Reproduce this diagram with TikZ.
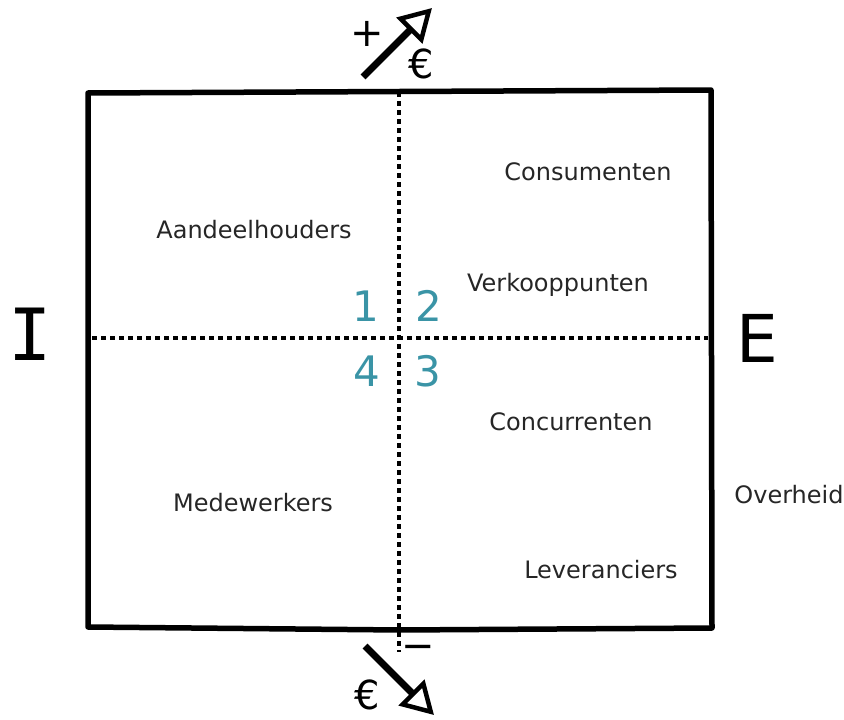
\documentclass[tikz,border=0pt]{standalone}
\usepackage{fontspec}
\setmainfont{DejaVu Sans}
\newfontfamily\slabfont{DejaVu Sans Mono}
\usetikzlibrary{arrows.meta}
\definecolor{numteal}{HTML}{3A94A6}
\tikzset{
  lbl/.style={font=\fontsize{24}{26}\selectfont, text=black!85, inner sep=0pt},
  num/.style={font=\fontsize{42}{44}\selectfont, text=numteal, inner sep=0pt},
  bigI/.style={font=\slabfont\fontsize{72}{74}\selectfont, inner sep=0pt},
  bigE/.style={font=\fontsize{66}{68}\selectfont, inner sep=0pt},
  frame/.style={line width=5.5pt, line join=round, line cap=round},
  dots/.style={line width=3.6pt, dash pattern=on 4.5pt off 4.5pt},
  bigarrow/.style={line width=7pt, -{Triangle[open, length=32pt, width=36pt, line width=4.5pt]}},
  sym/.style={font=\fontsize{40}{42}\selectfont, inner sep=0pt}
}
\begin{document}
\begin{tikzpicture}[x=1pt,y=-1pt]
\useasboundingbox (0,0) rectangle (844,720);
% frame
\draw[frame] (88,93) -- (711,90) -- (712,628) -- (400,630) -- (88,627) -- cycle;
% quadrant lines
\coordinate (vt) at (399,92);
\coordinate (vb) at (399,652);
\coordinate (hl) at (92,338);
\coordinate (hr) at (708,338);
\draw[dots] (vt) -- (vb);
\draw[dots] (hl) -- (hr);
% labels
\node[lbl] (cons) at (588,172) {Consumenten};
\node[lbl] (aand) at (254,230) {Aandeelhouders};
\node[lbl] (verk) at (558,285) {Verkooppunten};
\node[lbl] (conc) at (571,422) {Concurrenten};
\node[lbl] (mede) at (253,503) {Medewerkers};
\node[lbl] (over) at (789,495) {Overheid};
\node[lbl] (leve) at (601,570) {Leveranciers};
% numbers
\node[num] (n1) at (366,306) {1};
\node[num] (n2) at (429,306) {2};
\node[num] (n4) at (367,371) {4};
\node[num] (n3) at (428,371) {3};
% I / E
\node[bigI] (I) at (30,334) {I};
\node[bigE] (E) at (757,338) {E};
% top arrow
\coordinate (ta) at (363,77);
\coordinate (tb) at (432,8);
\draw[bigarrow] (ta) -- (tb);
\node[sym] (plus) at (367,34) {+};
\node[sym] (eurt) at (421,64) {€};
% bottom arrow
\coordinate (ba) at (365,646);
\coordinate (bb) at (434,715);
\draw[bigarrow] (ba) -- (bb);
\node[sym] (minus) at (418,652) {−};
\node[sym] (eurb) at (367,695) {€};
\end{tikzpicture}
\end{document}
